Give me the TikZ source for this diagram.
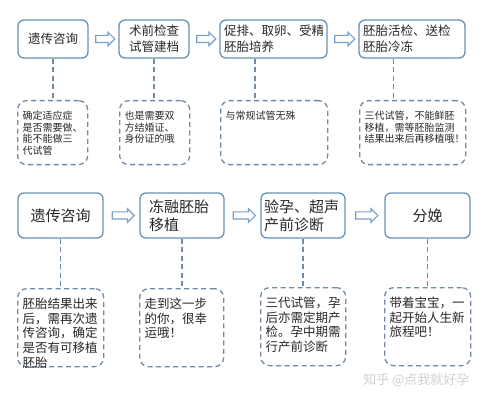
\documentclass[tikz,border=0pt]{standalone}
\usepackage{fontspec}
\newfontfamily\cjk{Noto Sans CJK SC}
\usetikzlibrary{calc}
\usetikzlibrary{shapes.arrows}
\definecolor{boxblue}{RGB}{105,145,182}
\definecolor{noteblue}{RGB}{112,138,165}
\definecolor{arrowblue}{RGB}{120,160,200}
\definecolor{inkgray}{RGB}{40,40,40}

\begin{document}
\begin{tikzpicture}[x=1pt,y=-1pt,
    stepbox/.style={draw=boxblue,line width=1.3pt,rounded corners=6pt,
      text=inkgray,inner xsep=4pt,inner ysep=0pt},
    topstep/.style={stepbox,minimum height=38pt,
      font=\cjk\fontsize{12.5}{16}\selectfont},
    lowstep/.style={stepbox,minimum height=45pt,
      font=\cjk\fontsize{15}{18}\selectfont},
    notebox/.style={draw=noteblue,line width=1.3pt,dash pattern=on 5pt off 3.5pt,
      rounded corners=9pt,anchor=north west,align=left,text=inkgray,
      inner xsep=5pt,inner ysep=5pt},
    topnote/.style={notebox,text height=14pt,text depth=40pt,
      font=\cjk\fontsize{10}{11.6}\selectfont},
    lownote/.style={notebox,text height=15pt,text depth=53pt,
      font=\cjk\fontsize{12.5}{14.6}\selectfont},
    hollowarrow/.style={single arrow,draw=arrowblue,fill=white,line width=1.1pt,
      inner xsep=0pt,inner ysep=3pt,minimum width=0pt,single arrow head extend=3.2pt,
      single arrow head indent=0pt,shape border rotate=0},
    linkline/.style={draw=noteblue,line width=1.3pt,dash pattern=on 5pt off 3.5pt}]
\useasboundingbox[fill=white] (0,0) rectangle (484,403);

% top row
\node[topstep,minimum width=70pt] (b1) at (53,39) {遗传咨询};
\node[topstep,minimum width=70pt,align=center] (b2) at (154,39) {术前检查\\试管建档};
\node[topstep,text width=99pt,align=left] (b3) at (273.5,39) {促排、取卵、受精\\胚胎培养};
\node[topstep,text width=98pt,align=left] (b4) at (412,39) {胚胎活检、送检\\胚胎冷冻};

\node[topnote,text width=60pt] (n1) at (17,100) {确定适应症\\是否需要做、\\能不能做三\\代试管};
\node[topnote,text width=60pt] (n2) at (119,100) {也是需要双\\方结婚证、\\身份证的哦};
\node[topnote,text width=97pt] (n3) at (220,100) {与常规试管无殊};
\node[topnote,text width=96pt] (n4) at (359,100) {三代试管，不能鲜胚\\移植，需等胚胎监测\\结果出来后再移植哦！};

% bottom row
\node[lowstep,minimum width=85pt] (b5) at (60.5,215.5) {遗传咨询};
\node[lowstep,text width=66pt,inner xsep=9pt,align=left] (b6) at (182,215.5) {冻融胚胎\\移植};
\node[lowstep,text width=78pt,inner xsep=3pt,align=left] (b7) at (303,215.5) {验孕、超声\\产前诊断};
\node[lowstep,minimum width=85pt] (b8) at (427.5,215.5) {分娩};

\node[lownote,text width=76pt] (n5) at (17,288) {胚胎结果出来\\后，需再次遗\\传咨询，确定\\是否有可移植\\胚胎};
\node[lownote,text width=74pt] (n6) at (139,288) {走到这一步\\的你，很幸\\运哦！};
\node[lownote,text width=75pt] (n7) at (260,287) {三代试管，孕\\后亦需定期产\\检。孕中期需\\行产前诊断};
\node[lownote,text width=76pt] (n8) at (384,287) {带着宝宝，一\\起开始人生新\\旅程吧！};

% arrows between steps
\node[hollowarrow,minimum height=19pt] (a1) at ($(b1.east)!.5!(b2.west)$) {};
\node[hollowarrow,minimum height=19pt] (a2) at ($(b2.east)!.5!(b3.west)$) {};
\node[hollowarrow,minimum height=20pt] (a3) at ($(b3.east)!.5!(b4.west)$) {};
\node[hollowarrow,minimum height=22pt] (a5) at ($(b5.east)!.5!(b6.west)$) {};
\node[hollowarrow,minimum height=22pt] (a6) at ($(b6.east)!.5!(b7.west)$) {};
\node[hollowarrow,minimum height=22pt] (a7) at ($(b7.east)!.5!(b8.west)$) {};

% dashed links
\coordinate (c3) at ($(b3.south west)!.33!(b3.south east)$);
\coordinate (c4) at ($(b4.south west)!.33!(b4.south east)$);
\draw[linkline] (b1.south) -- (b1.south |- n1.north);
\draw[linkline] (b2.south) -- (b2.south |- n2.north);
\draw[linkline] (c3) -- (c3 |- n3.north);
\draw[linkline] (c4) -- (c4 |- n4.north);
\draw[linkline] (b5.south) -- (b5.south |- n5.north);
\draw[linkline] (b6.south) -- (b6.south |- n6.north);
\draw[linkline] (b7.south) -- (b7.south |- n7.north);
\draw[linkline] (b8.south) -- (b8.south |- n8.north);

\node[text=black!18,font=\cjk\fontsize{13}{15}\selectfont,anchor=east] (mark) at (473,380) {知乎 @点我就好孕};
\end{tikzpicture}
\end{document}
